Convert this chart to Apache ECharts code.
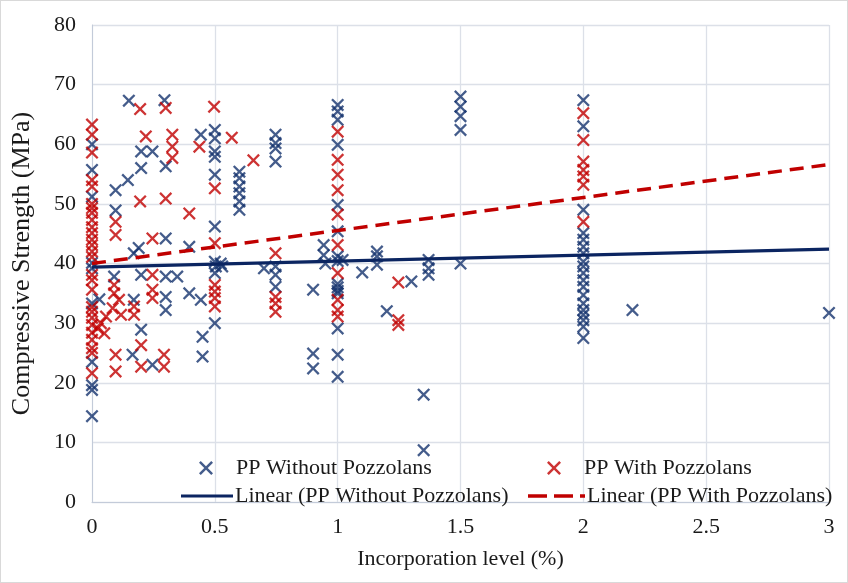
<!DOCTYPE html>
<html>
<head>
<meta charset="utf-8">
<script src="https://cdn.jsdelivr.net/npm/echarts@6/dist/echarts.min.js"></script>
<style>
  html, body { margin: 0; padding: 0; background: #fff; }
  #chart { width: 848px; height: 583px; box-sizing: border-box; border: 1px solid #D9D9D9; }
</style>
</head>
<body>
<div id="chart"></div>
<script>
// ---- Data ----
const xTicks = [0, 0.5, 1, 1.5, 2, 2.5, 3];
const yTicks = [0, 10, 20, 30, 40, 50, 60, 70, 80];

const withoutPozzolans = [
  [0,60.0],[0,55.7],[0,51.2],[0,40.1],[0,39.2],[0,33.3],[0,23.5],[0,19.6],[0,18.8],[0,14.4],
  [0.03,34.0],[0.09,37.8],[0.096,52.3],[0.096,48.9],[0.146,54.0],[0.15,67.3],[0.17,33.9],
  [0.165,24.7],[0.17,41.7],[0.19,42.6],[0.2,58.8],[0.2,56.0],[0.2,38.1],[0.2,28.9],
  [0.246,58.8],[0.246,23.0],[0.295,67.4],[0.3,56.3],[0.3,44.2],[0.3,37.8],[0.3,34.4],
  [0.3,32.2],[0.347,37.8],[0.396,42.8],[0.396,35.0],[0.443,61.6],[0.443,33.9],[0.45,27.7],
  [0.45,24.4],
  [0.5,62.4],[0.5,61.0],[0.5,58.8],[0.5,57.9],[0.5,54.9],[0.5,46.2],[0.5,40.3],[0.504,39.5],
  [0.53,39.5],[0.5,38.4],[0.524,40.0],[0.5,30.0],
  [0.6,55.4],[0.6,54.3],[0.6,52.9],[0.6,51.8],[0.6,50.4],[0.6,49.0],
  [0.7,39.2],[0.747,61.6],[0.747,60.2],[0.747,59.3],[0.747,57.1],[0.747,39.5],[0.747,38.1],
  [0.747,36.1],
  [0.9,35.6],[0.9,24.9],[0.9,22.4],[0.943,43.1],[0.943,41.4],[0.95,40.0],
  [1,66.6],[1,65.5],[1,64.1],[1,59.9],[1,49.8],[1,45.4],[1,41.2],[1,40.4],[1.02,40.6],
  [1,36.6],[1,36.0],[1,35.4],[1,35.0],[1,29.1],[1,24.7],[1,21.0],
  [1.1,38.5],[1.16,42.0],[1.16,41.2],[1.16,39.8],[1.2,32.0],[1.3,37.0],[1.35,18.0],[1.35,8.7],
  [1.37,40.6],[1.37,39.2],[1.37,38.1],
  [1.5,68.0],[1.5,66.3],[1.5,64.7],[1.5,62.4],[1.5,40.0],
  [2,67.4],[2,63.0],[2,49.0],[2,45.1],[2,44.0],[2,42.8],[2,41.7],[2,40.3],[2,39.5],[2,38.4],
  [2,37.2],[2,36.1],[2,34.7],[2,33.3],[2,32.2],[2,31.4],[2,30.5],[2,29.4],[2,27.5],
  [2.2,32.2],[3,31.7]
];

const withPozzolans = [
  [0,63.3],[0,61.6],[0,58.6],[0,54.0],[0,52.9],[0,50.0],[0,49.3],[0,48.5],[0,47.3],[0,46.1],
  [0,45.1],[0,44.0],[0,43.1],[0,42.0],[0,41.1],[0,38.1],[0,37.2],[0,35.6],[0,32.7],[0,31.9],
  [0,30.9],[0,29.7],[0,28.4],[0,27.2],[0,25.8],[0,25.0],[0,21.6],
  [0.023,29.1],[0.036,30.0],[0.05,28.3],[0.057,31.1],[0.084,32.5],[0.09,36.4],[0.09,35.0],
  [0.11,33.9],[0.118,31.4],[0.096,47.0],[0.096,44.8],[0.096,24.7],[0.096,21.9],
  [0.171,32.8],[0.171,31.4],[0.196,65.9],[0.196,50.4],[0.2,26.3],[0.2,22.7],[0.219,61.3],
  [0.246,44.2],[0.246,38.1],[0.246,35.6],[0.246,34.2],[0.293,24.7],[0.293,22.7],[0.3,66.1],
  [0.3,50.9],[0.327,61.6],[0.327,59.6],[0.327,57.7],[0.396,48.4],[0.437,59.6],[0.497,66.3],
  [0.5,52.6],[0.5,43.4],[0.5,36.4],[0.5,35.3],[0.5,34.2],[0.5,32.8],[0.569,61.1],[0.657,57.3],
  [0.747,41.7],[0.747,34.4],[0.747,33.3],[0.747,31.9],
  [1,62.1],[1,57.4],[1,54.9],[1,52.3],[1,48.2],[1,43.1],[1,38.4],[1,33.9],[1,32.2],[1,31.1],
  [1.247,36.8],[1.247,30.5],[1.247,29.7],
  [2,65.2],[2,60.7],[2,57.1],[2,55.7],[2,54.6],[2,53.2],[2,47.0]
];

const trendX = [0, 3];
const trendWithout = [39.4, 42.4];
const trendWith = [40.0, 56.6];

const seriesNames = [
  'PP Without Pozzolans',
  'PP With Pozzolans',
  'Linear (PP Without Pozzolans)',
  'Linear (PP With Pozzolans)'
];

// ---- Styling ----
const BLUE = '#15336E';
const BLUE_LINE = '#0B2561';
const RED = '#C00000';
const FONT = 'Liberation Serif, Times New Roman, serif';
const TXT = '#1a1a1a';
const CROSS = 'path://M0,1.25L1.25,0L5,3.75L8.75,0L10,1.25L6.25,5L10,8.75L8.75,10L5,6.25L1.25,10L0,8.75L3.75,5Z';
const SOLID_ICON = 'path://M0,0H52V3.2H0Z';
const DASH_ICON = 'path://M0,0H19V3.6H0Z M26,0H45V3.6H26Z M52,0H57V3.6H52Z';

const chart = echarts.init(document.getElementById('chart'));

function legendAt(item, left, top, w, h, padLeft) {
  return {
    data: [item], left: left, top: top, orient: 'horizontal',
    itemWidth: w, itemHeight: h, selectedMode: false,
    textStyle: { fontFamily: FONT, fontSize: 22, color: TXT, padding: [0, 0, 0, padLeft] },
    padding: 0
  };
}

chart.setOption({
  animation: false,
  backgroundColor: '#fff',
  grid: { left: 88, right: 18, top: 24, bottom: 80, containLabel: false },
  xAxis: {
    type: 'value', min: 0, max: 3, interval: 0.5,
    name: 'Incorporation level (%)', nameLocation: 'middle', nameGap: 46,
    nameTextStyle: { fontFamily: FONT, fontSize: 22, color: TXT },
    axisLine: { show: true, lineStyle: { color: '#C3CBD9', width: 1 } },
    axisTick: { show: false },
    axisLabel: { fontFamily: FONT, fontSize: 22, color: TXT, margin: 14,
      formatter: v => String(v) },
    splitLine: { show: true, lineStyle: { color: '#DCE0E8', width: 1.3 } }
  },
  yAxis: {
    type: 'value', min: 0, max: 80, interval: 10,
    name: 'Compressive Strength (MPa)', nameLocation: 'middle', nameGap: 57,
    nameTextStyle: { fontFamily: FONT, fontSize: 26, color: TXT },
    axisLine: { show: true, lineStyle: { color: '#C3CBD9', width: 1 } },
    axisTick: { show: false },
    axisLabel: { fontFamily: FONT, fontSize: 22, color: TXT, margin: 16 },
    splitLine: { show: true, lineStyle: { color: '#DCE0E8', width: 1.3 } }
  },
  legend: [
    legendAt(seriesNames[0], 198, 456, 14, 14, 18),
    legendAt(seriesNames[1], 546, 456, 14, 14, 18),
    legendAt({ name: seriesNames[2], icon: SOLID_ICON }, 180, 484, 52, 3.2, -3),
    legendAt({ name: seriesNames[3], icon: DASH_ICON }, 527, 484, 57, 3.6, -3)
  ],
  series: [
    {
      name: seriesNames[0], type: 'scatter', data: withoutPozzolans,
      symbol: CROSS, symbolSize: 13, symbolKeepAspect: true,
      itemStyle: { color: BLUE }, z: 2
    },
    {
      name: seriesNames[1], type: 'scatter', data: withPozzolans,
      symbol: CROSS, symbolSize: 13, symbolKeepAspect: true,
      itemStyle: { color: RED }, z: 3
    },
    {
      name: seriesNames[2], type: 'line',
      data: trendX.map((x, i) => [x, trendWithout[i]]),
      showSymbol: false, symbol: 'none',
      lineStyle: { color: BLUE_LINE, width: 3.2, type: 'solid' },
      itemStyle: { color: BLUE_LINE }, z: 4
    },
    {
      name: seriesNames[3], type: 'line',
      data: trendX.map((x, i) => [x, trendWith[i]]),
      showSymbol: false, symbol: 'none',
      lineStyle: { color: RED, width: 3.5, type: [14, 8] },
      itemStyle: { color: RED }, z: 5
    }
  ]
});
</script>
</body>
</html>
